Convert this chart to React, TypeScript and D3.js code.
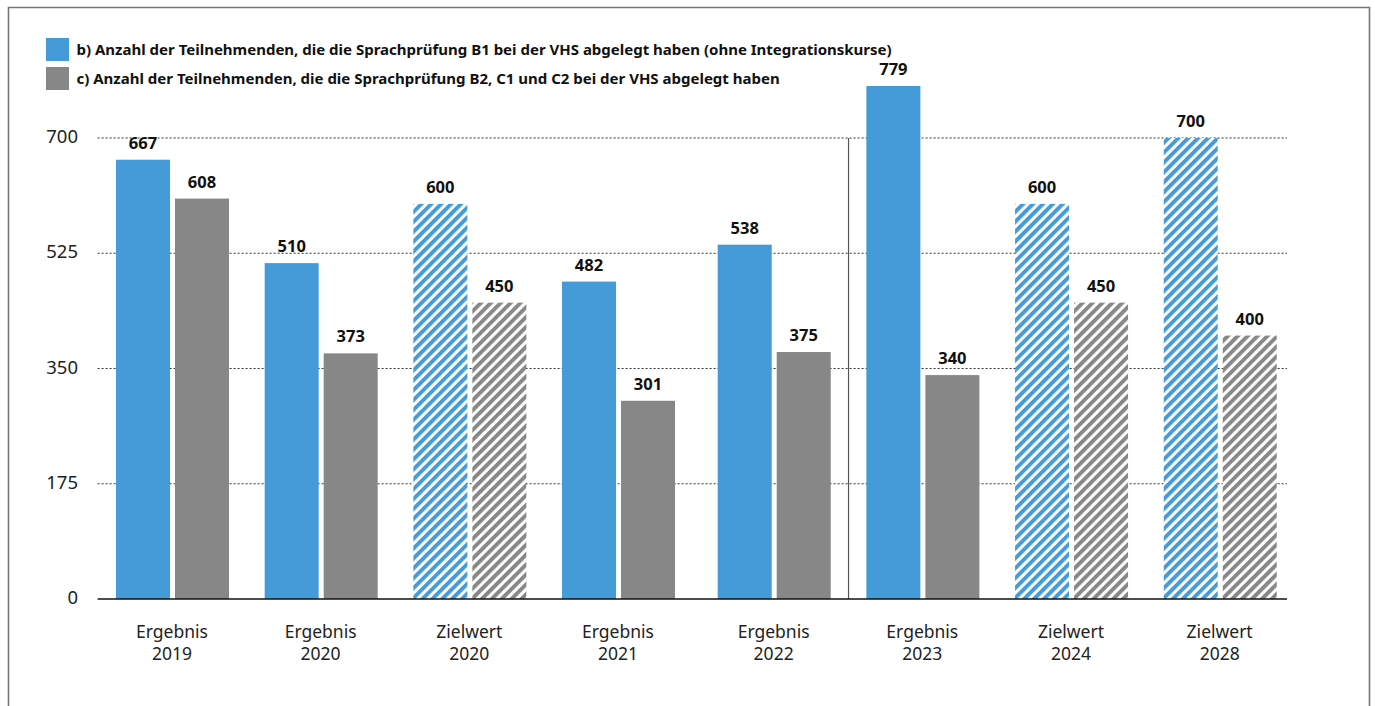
import React from "react";
import * as d3 from "d3";

// Chart data
const kinds = ["Ergebnis", "Ergebnis", "Zielwert", "Ergebnis", "Ergebnis", "Ergebnis", "Zielwert", "Zielwert"];
const years = ["2019", "2020", "2020", "2021", "2022", "2023", "2024", "2028"];
const seriesB = [667, 510, 600, 482, 538, 779, 600, 700];
const seriesC = [608, 373, 450, 301, 375, 340, 450, 400];
const yTicks = [0, 175, 350, 525, 700];
const legendLabels = [
  "b) Anzahl der Teilnehmenden, die die Sprachprüfung B1 bei der VHS abgelegt haben (ohne Integrationskurse)",
  "c) Anzahl der Teilnehmenden, die die Sprachprüfung B2, C1 und C2 bei der VHS abgelegt haben",
];
const seriesKeys = ["b", "c"];

const W = 1375;
const H = 706;
const BLUE = "#449bd8";
const GRAY = "#878787";
const FONT = "'Noto Sans', 'DejaVu Sans', sans-serif";

export default function App() {
  const plotLeft = 97.6;
  const axisEnd = 1287;
  const groupGap = 7; // extra space for the later groups (after 2021)
  const y = d3.scaleLinear().domain([0, 700]).range([599, 138]);
  const x0 = d3
    .scaleBand<number>()
    .domain(d3.range(years.length))
    .range([plotLeft, axisEnd])
    .padding(0);
  const gx = (i: number) => x0(i)! + (i >= 4 ? groupGap : 0);
  const bw = x0.bandwidth();
  const x1 = d3
    .scaleBand<string>()
    .domain(seriesKeys)
    .range([18.4, 131.4])
    .paddingInner(5 / 59);

  const rows = years.map((yr, i) => ({
    i,
    kind: kinds[i],
    year: yr,
    target: kinds[i] === "Zielwert",
    values: [seriesB[i], seriesC[i]],
  }));

  // separator between the 2022 and 2023 groups
  const sepX = (gx(4) + x1("c")! + x1.bandwidth() + gx(5) + x1("b")!) / 2;

  return (
    <svg
      width={W}
      height={H}
      style={{ position: "absolute", left: 0, top: 0, background: "#fff" }}
      fontFamily={FONT}
    >
      <defs>
        <pattern id="hatch-b" width="7" height="7" patternUnits="userSpaceOnUse" patternTransform="rotate(45)">
          <rect width="7" height="7" fill="#fff" />
          <rect width="3.9" height="7" fill={BLUE} />
        </pattern>
        <pattern id="hatch-c" width="7" height="7" patternUnits="userSpaceOnUse" patternTransform="rotate(45)">
          <rect width="7" height="7" fill="#fff" />
          <rect width="3.9" height="7" fill={GRAY} />
        </pattern>
      </defs>

      {/* frame */}
      <path d={`M8.5,${H + 2} V7.5 H1369.5 V${H + 2}`} fill="none" stroke="#777" strokeWidth={1.6} />

      {/* legend */}
      {legendLabels.map((lab, k) => (
        <g key={k} transform={`translate(46,${38 + k * 29})`}>
          <rect width={23} height={23} fill={k === 0 ? BLUE : GRAY} />
          <text x={30.5} y={16.8} fontSize={15} fontWeight={700} fill="#111">
            {lab}
          </text>
        </g>
      ))}

      {/* gridlines */}
      {yTicks.filter((t) => t > 0).map((t) => (
        <line
          key={t}
          x1={plotLeft}
          x2={axisEnd}
          y1={y(t)}
          y2={y(t)}
          stroke="#333"
          strokeWidth={1}
          strokeDasharray="2,2"
        />
      ))}

      {/* y tick labels */}
      {yTicks.map((t) => (
        <text key={t} x={78} y={y(t) + 5} textAnchor="end" fontSize={18.5} fill="#222">
          {t}
        </text>
      ))}

      {/* bars */}
      {rows.map((r) => (
        <g key={r.i} transform={`translate(${gx(r.i)},0)`}>
          {r.values.map((v, k) => {
            const key = seriesKeys[k];
            const bx = x1(key)!;
            const fill = r.target ? `url(#hatch-${key})` : k === 0 ? BLUE : GRAY;
            return (
              <g key={key}>
                <rect x={bx} y={y(v)} width={x1.bandwidth()} height={y(0) - y(v)} fill={fill} />
                <text
                  x={bx + x1.bandwidth() / 2}
                  y={y(v) - 11}
                  textAnchor="middle"
                  fontSize={16.5}
                  fontWeight={700}
                  fill="#111"
                >
                  {v}
                </text>
              </g>
            );
          })}
          <text x={bw / 2} y={638} textAnchor="middle" fontSize={17.5} fill="#222">
            {r.kind}
          </text>
          <text x={bw / 2} y={660} textAnchor="middle" fontSize={17.5} fill="#222">
            {r.year}
          </text>
        </g>
      ))}

      {/* separator */}
      <line x1={sepX} x2={sepX} y1={y(700)} y2={y(0)} stroke="#555" strokeWidth={1.2} />

      {/* baseline */}
      <line x1={plotLeft} x2={axisEnd} y1={y(0)} y2={y(0)} stroke="#111" strokeWidth={1.5} />
    </svg>
  );
}
